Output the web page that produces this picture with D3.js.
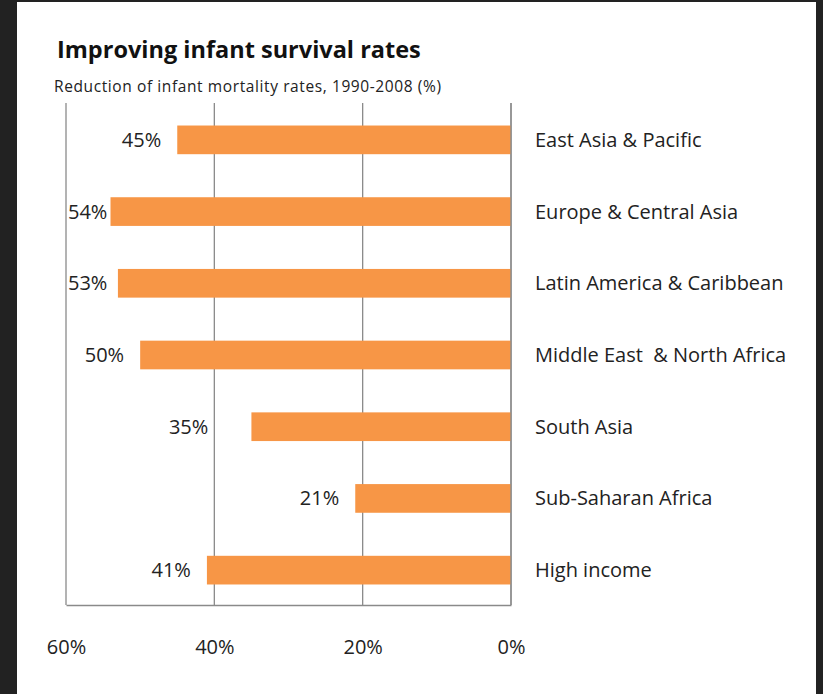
<!DOCTYPE html>
<html>
<head>
<meta charset="utf-8">
<script src="https://cdn.jsdelivr.net/npm/d3@7"></script>
<style>
  html, body { margin: 0; padding: 0; background: #222222; }
  svg { display: block; }
</style>
</head>
<body>
<svg id="chart" width="823" height="694"></svg>
<script>
// data
const regions = ["East Asia & Pacific", "Europe & Central Asia", "Latin America & Caribbean",
  "Middle East  & North Africa", "South Asia", "Sub-Saharan Africa", "High income"]
const reduction = [45, 54, 53, 50, 35, 21, 41]
const tickValues = [60, 40, 20, 0]

const width = 823, height = 694
const svg = d3.select("#chart")

// white panel on dark background
svg.append("rect").attr("x", 17).attr("y", 2).attr("width", 799).attr("height", height - 2)
  .attr("fill", "#ffffff")

const font = "'Open Sans', sans-serif"
const plotTop = 103, plotBottom = 605

const xScale = d3.scaleLinear().domain([60, 0]).range([66, 511])
const yScale = d3.scaleBand().domain(regions).range([104, 606]).paddingInner(0.6).paddingOuter(0.3)

// title + subtitle
svg.append("text").attr("x", 57).attr("y", 58)
  .style("font-family", font).style("font-weight", "bold").style("font-size", "23.5px")
  .attr("fill", "#111").text("Improving infant survival rates")
svg.append("text").attr("x", 54).attr("y", 92)
  .style("font-family", font).style("font-size", "15.5px").style("letter-spacing", "0.6px")
  .attr("fill", "#222").text("Reduction of infant mortality rates, 1990-2008 (%)")

// vertical gridlines
svg.append("g").selectAll("line")
  .data(tickValues)
  .enter().append("line")
  .attr("x1", d => xScale(d)).attr("x2", d => xScale(d))
  .attr("y1", plotTop).attr("y2", plotBottom)
  .attr("stroke", "#8a8a8a").attr("stroke-width", 1.3)

// bottom axis line and labels
const xAxis = d3.axisBottom(xScale).tickValues(tickValues).tickSize(0).tickPadding(35)
  .tickFormat(d => d + "%")
const ax = svg.append("g").attr("transform", "translate(0," + plotBottom + ")").call(xAxis)
ax.select(".domain").attr("stroke", "#8a8a8a").attr("stroke-width", 1.5)
ax.selectAll("text").style("font-family", font).style("font-size", "20px").attr("fill", "#222")

// bars
svg.append("g").selectAll("rect")
  .data(reduction)
  .enter().append("rect")
  .attr("x", d => xScale(d))
  .attr("y", (d, i) => yScale(regions[i]))
  .attr("width", d => xScale(0) - xScale(d))
  .attr("height", yScale.bandwidth())
  .attr("fill", "#f79646")

// value labels left of bars, kept clear of gridlines and the left edge
svg.append("g").selectAll("text")
  .data(reduction)
  .enter().append("text")
  .attr("y", (d, i) => yScale(regions[i]) + yScale.bandwidth() / 2 + 7)
  .attr("text-anchor", "end")
  .style("font-family", font).style("font-size", "20px").attr("fill", "#222")
  .text(d => d + "%")
  .attr("x", function(d) {
    const w = this.getComputedTextLength()
    let right = Math.max(xScale(d) - 16, 68 + w)
    tickValues.forEach(t => {
      const gx = xScale(t)
      if (right - w < gx && right > gx && t !== 60) right = gx - 6
    })
    return right
  })

// category labels on the right
svg.append("g").selectAll("text")
  .data(regions)
  .enter().append("text")
  .attr("x", 535)
  .attr("y", d => yScale(d) + yScale.bandwidth() / 2 + 7)
  .style("font-family", font).style("font-size", "20px").attr("fill", "#222")
  .style("white-space", "pre").attr("xml:space", "preserve")
  .text(d => d)

// redraw the 0% line on top of bar ends
svg.append("line").attr("x1", xScale(0)).attr("x2", xScale(0))
  .attr("y1", plotTop).attr("y2", plotBottom)
  .attr("stroke", "#8a8a8a").attr("stroke-width", 1.3)
</script>
</body>
</html>
